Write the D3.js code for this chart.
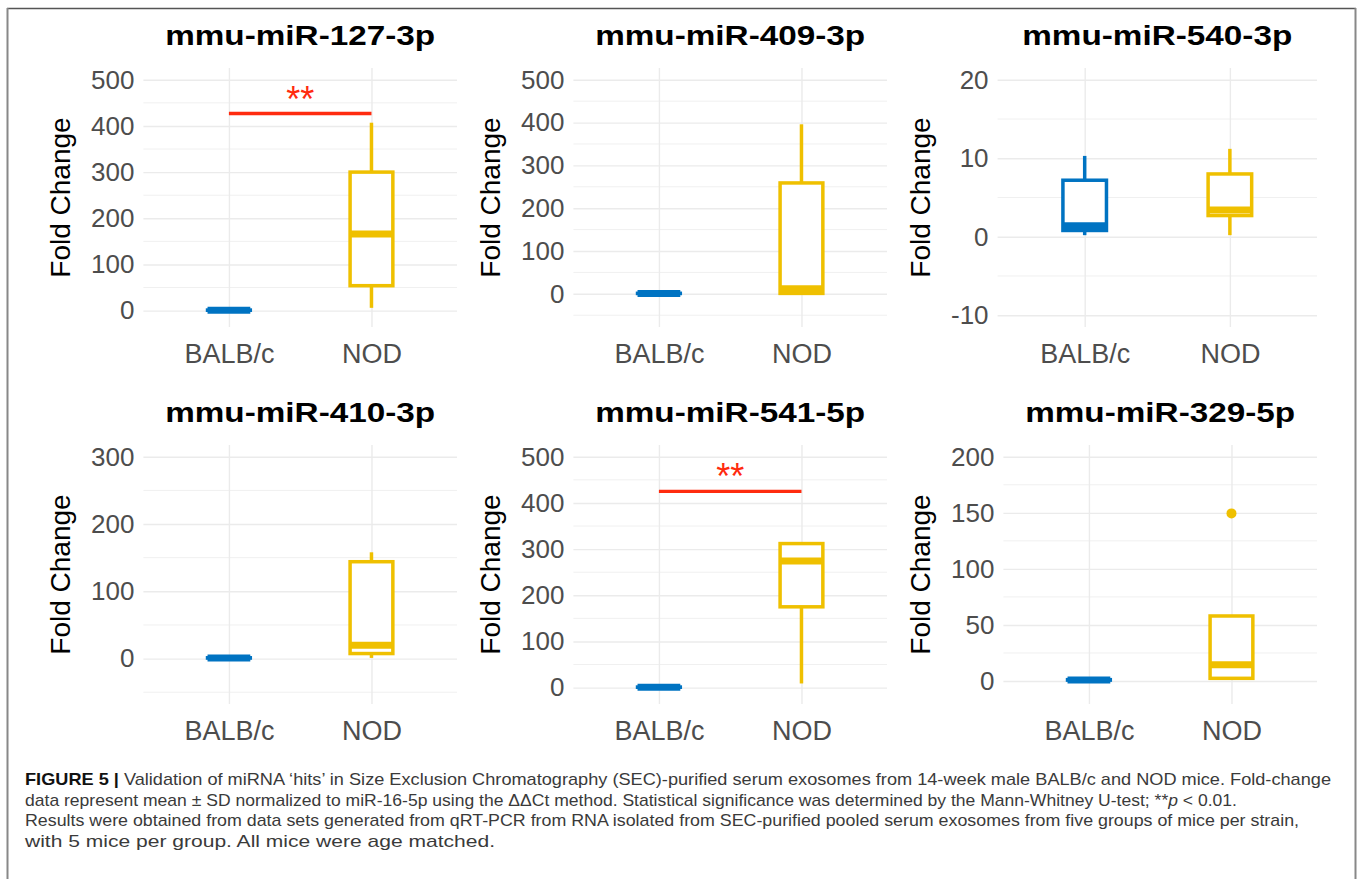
<!DOCTYPE html>
<html>
<head>
<meta charset="utf-8">
<script src="https://cdn.jsdelivr.net/npm/d3@7"></script>
<style>
  body { margin: 0; background: #fff; }
  svg { display: block; font-family: "Liberation Sans", Arial, sans-serif; }
</style>
</head>
<body>
<svg id="figure" width="1357" height="879"></svg>
<script>
const groups = ["BALB/c", "NOD"];
const titles = ["mmu-miR-127-3p", "mmu-miR-409-3p", "mmu-miR-540-3p",
                "mmu-miR-410-3p", "mmu-miR-541-5p", "mmu-miR-329-5p"];

// five-number summaries: [min, q1, median, q3, max]
const balbStats = [
  [0.6, 0.8, 1, 1.2, 1.5],
  [0.6, 0.8, 1, 1.2, 1.5],
  [0.2, 0.8, 1.4, 7.2, 10.3],
  [0.6, 0.8, 1, 1.2, 1.5],
  [0.6, 0.8, 1, 1.2, 1.5],
  [0.6, 0.8, 1, 1.2, 1.5]
];
const nodStats = [
  [6, 54, 166, 300, 407],
  [0.5, 1, 12, 259, 396],
  [0.2, 2.7, 3.4, 8.0, 11.2],
  [1, 7.5, 20, 144, 158],
  [9, 175, 274, 312, 312],
  [2.4, 2.4, 14.6, 58, 58]
];
const nodOutliers = [[], [], [], [], [], [149.5]];

const yLimits = [[-10, 500], [-50, 500], [-10, 20], [-50, 300], [-10, 500], [-10, 200]];
const yTicks = [
  [0, 100, 200, 300, 400, 500],
  [0, 100, 200, 300, 400, 500],
  [-10, 0, 10, 20],
  [0, 100, 200, 300],
  [0, 100, 200, 300, 400, 500],
  [0, 50, 100, 150, 200]
];
const sigBarY = [427, null, null, null, 425, null];
const sigTextY = [476, null, null, null, 475, null];
const sigLabel = "**";

const captionHead = "FIGURE 5 |";
const captionLines = [
  "Validation of miRNA \u2018hits\u2019 in Size Exclusion Chromatography (SEC)-purified serum exosomes from 14-week male BALB/c and NOD mice. Fold-change",
  "data represent mean \u00b1 SD normalized to miR-16-5p using the \u0394\u0394Ct method. Statistical significance was determined by the Mann-Whitney U-test; **p < 0.01.",
  "Results were obtained from data sets generated from qRT-PCR from RNA isolated from SEC-purified pooled serum exosomes from five groups of mice per strain,",
  "with 5 mice per group. All mice were age matched."
];

const colors = { "BALB/c": "#0073C2", "NOD": "#EFC000" };
const svg = d3.select("#figure");

svg.append("rect").attr("width", 1357).attr("height", 879).attr("fill", "#fff");

// frame
svg.append("line").attr("x1", 7).attr("x2", 1356).attr("y1", 8.5).attr("y2", 8.5)
  .attr("stroke", "#555").attr("stroke-width", 1.5);
svg.append("line").attr("x1", 7.5).attr("x2", 7.5).attr("y1", 8).attr("y2", 879)
  .attr("stroke", "#888").attr("stroke-width", 2);
svg.append("line").attr("x1", 1355.5).attr("x2", 1355.5).attr("y1", 8).attr("y2", 879)
  .attr("stroke", "#888").attr("stroke-width", 2);

titles.forEach((title, i) => {
  const col = i % 3, row = Math.floor(i / 3);
  const colX = col * 430, rowY = row * 377;
  const top = rowY + 68, bottom = rowY + 327, right = colX + 457;
  const g = svg.append("g");

  // width of the widest tick label decides where the panel starts
  const probe = g.append("g").style("font-size", "26px");
  const tickW = d3.max(yTicks[i], t => probe.append("text").text(String(t)).node().getComputedTextLength());
  probe.remove();
  const left = colX + 91 + tickW + 9;

  const [lo, hi] = yLimits[i];
  const pad = (hi - lo) * 0.05;
  const y = d3.scaleLinear().domain([lo - pad, hi + pad]).range([bottom, top]);
  const x = d3.scalePoint().domain(groups).range([left, right]).padding(0.6);
  const boxW = x.step() * 0.3;

  // minor grid
  const s = yTicks[i][1] - yTicks[i][0];
  const minor = d3.range(yTicks[i][0] - s / 2, hi + pad, s).filter(v => v >= lo - pad);
  g.append("g").selectAll("line").data(minor).join("line")
    .attr("x1", left).attr("x2", right)
    .attr("y1", d => y(d)).attr("y2", d => y(d))
    .attr("stroke", "#f0f0f0").attr("stroke-width", 1);

  // major grid
  g.append("g").attr("transform", `translate(${left},0)`)
    .call(d3.axisLeft(y).tickValues(yTicks[i]).tickSize(-(right - left)).tickFormat(""))
    .call(a => a.select(".domain").remove())
    .call(a => a.selectAll("line").attr("stroke", "#ebebeb").attr("stroke-width", 1.4));
  g.append("g").attr("transform", `translate(0,${bottom})`)
    .call(d3.axisBottom(x).tickSize(-(bottom - top)).tickFormat(""))
    .call(a => a.select(".domain").remove())
    .call(a => a.selectAll("line").attr("stroke", "#ebebeb").attr("stroke-width", 1.4));

  // y tick labels
  g.append("g").attr("transform", `translate(${left},0)`)
    .call(d3.axisLeft(y).tickValues(yTicks[i]).tickSize(0).tickPadding(9).tickFormat(d => String(d)))
    .attr("font-family", null).attr("font-size", null)
    .call(a => a.select(".domain").remove())
    .call(a => a.selectAll("text").attr("fill", "#4d4d4d").style("font-size", "26px"));

  // x tick labels
  g.append("g").attr("transform", `translate(0,${bottom})`)
    .call(d3.axisBottom(x).tickSize(0).tickPadding(17))
    .attr("font-family", null).attr("font-size", null)
    .call(a => a.select(".domain").remove())
    .call(a => a.selectAll("text").attr("fill", "#4d4d4d").style("font-size", "27px"));

  // boxes
  const stats = [balbStats[i], nodStats[i]];
  const boxes = g.append("g").selectAll("g")
    .data(groups.map((k, j) => ({ key: k, s: stats[j] })))
    .join("g")
    .attr("stroke", d => colors[d.key]).attr("fill", "none");
  boxes.append("line")
    .attr("x1", d => x(d.key)).attr("x2", d => x(d.key))
    .attr("y1", d => y(d.s[0])).attr("y2", d => y(d.s[1]))
    .attr("stroke-width", 3.5);
  boxes.append("line")
    .attr("x1", d => x(d.key)).attr("x2", d => x(d.key))
    .attr("y1", d => y(d.s[3])).attr("y2", d => y(d.s[4]))
    .attr("stroke-width", 3.5);
  boxes.append("rect")
    .attr("x", d => x(d.key) - boxW / 2).attr("width", boxW)
    .attr("y", d => y(d.s[3])).attr("height", d => y(d.s[1]) - y(d.s[3]))
    .attr("fill", "#fff").attr("stroke-width", 3.5);
  boxes.append("line")
    .attr("x1", d => x(d.key) - boxW / 2).attr("x2", d => x(d.key) + boxW / 2)
    .attr("y1", d => y(d.s[2])).attr("y2", d => y(d.s[2]))
    .attr("stroke-width", 7);

  g.append("g").selectAll("circle").data(nodOutliers[i]).join("circle")
    .attr("cx", x("NOD")).attr("cy", d => y(d)).attr("r", 5)
    .attr("fill", colors["NOD"]);

  // significance bar
  if (sigBarY[i] !== null) {
    g.append("line")
      .attr("x1", x("BALB/c")).attr("x2", x("NOD"))
      .attr("y1", y(sigBarY[i])).attr("y2", y(sigBarY[i]))
      .attr("stroke", "#ff2b0f").attr("stroke-width", 3.3);
    g.append("text")
      .attr("x", (x("BALB/c") + x("NOD")) / 2)
      .attr("y", y(sigTextY[i]) + 0.58 * 36)
      .attr("text-anchor", "middle").attr("fill", "#ff2b0f")
      .style("font-size", "36px").text(sigLabel);
  }

  // panel title
  g.append("text")
    .attr("x", (left + right) / 2).attr("y", rowY + 45)
    .attr("text-anchor", "middle").attr("fill", "#000")
    .attr("textLength", 270).attr("lengthAdjust", "spacingAndGlyphs")
    .style("font-size", "27px").style("font-weight", "bold")
    .text(title);

  // y axis title
  g.append("text")
    .attr("transform", `translate(${colX + 70},${(top + bottom) / 2}) rotate(-90)`)
    .attr("text-anchor", "middle").attr("fill", "#000")
    .style("font-size", "28px")
    .text("Fold Change");
});

// caption
const capBase = [785, 805.5, 826, 846.5];
const capWidth = [1306, 1212, 1274, 470];
const cap = svg.append("g").attr("fill", "#3a3a3a").style("font-size", "17px");
captionLines.forEach((line, k) => {
  const t = cap.append("text").attr("x", 25).attr("y", capBase[k])
    .attr("textLength", capWidth[k]).attr("lengthAdjust", "spacingAndGlyphs");
  if (k === 0) {
    t.append("tspan").attr("fill", "#111").style("font-weight", "bold").text(captionHead + " ");
  }
  line.split(/(\*\*p)/).forEach(part => {
    if (part === "**p") {
      t.append("tspan").text("**");
      t.append("tspan").style("font-style", "italic").text("p");
    } else if (part) {
      t.append("tspan").text(part);
    }
  });
});
</script>
</body>
</html>
